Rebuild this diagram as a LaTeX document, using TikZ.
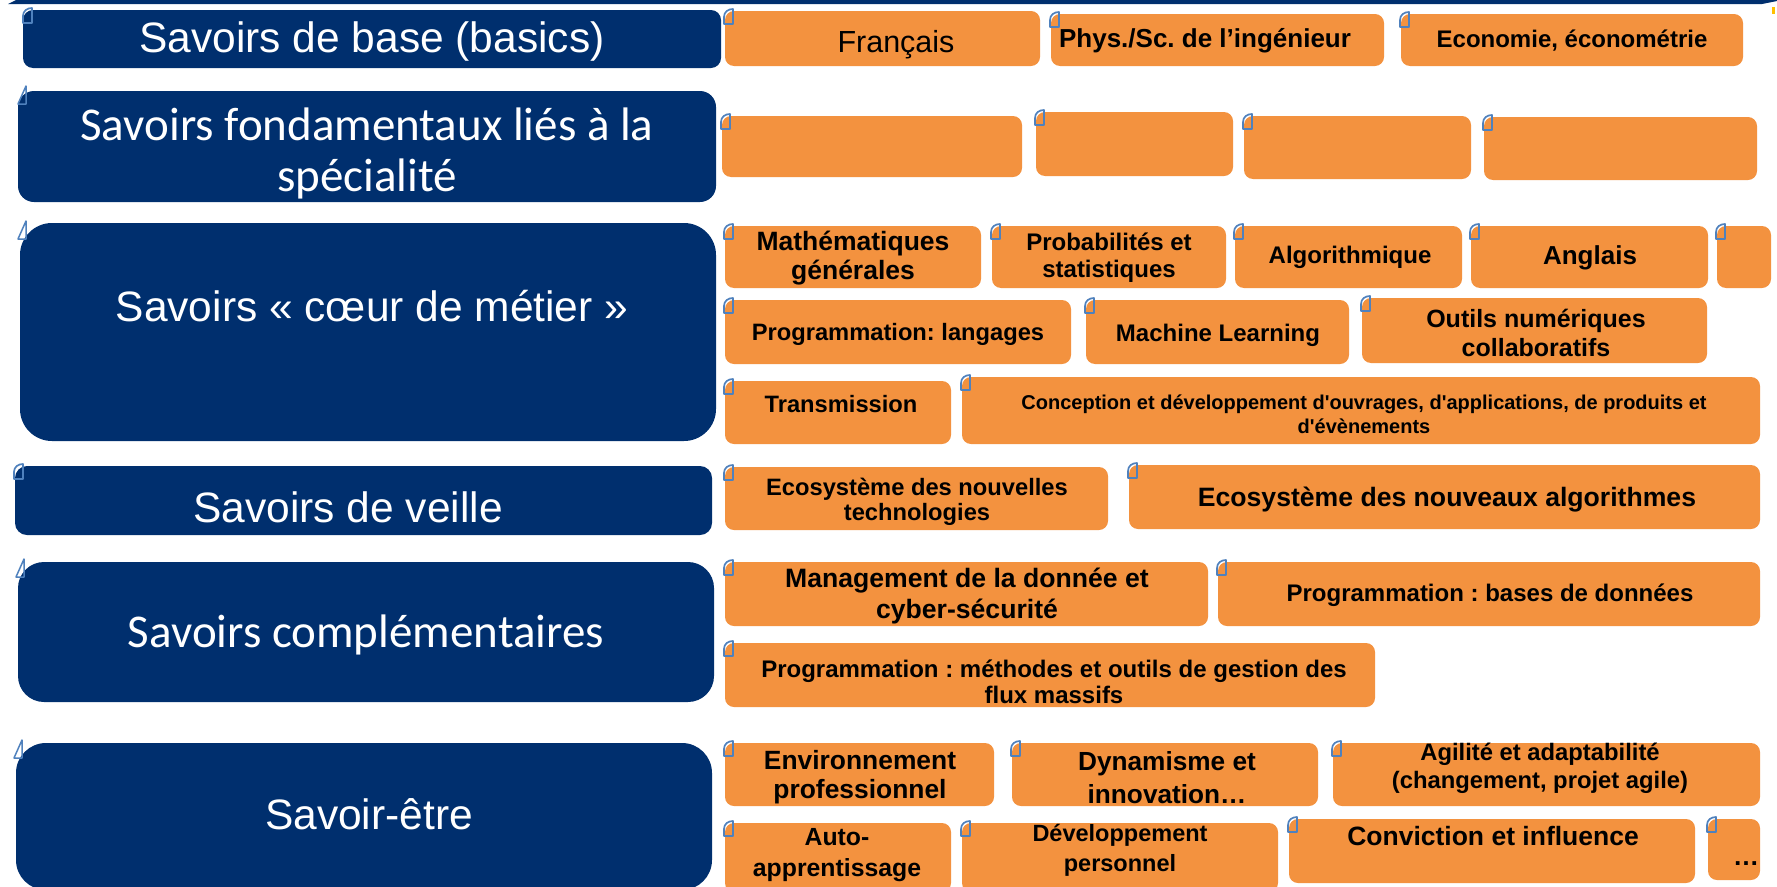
\documentclass[tikz,border=0pt]{standalone}
\usepackage{fontspec}
\setmainfont{Liberation Sans}[Ligatures=TeXOff]
\newfontfamily\calib{Carlito}
\usetikzlibrary{fit}
\definecolor{navy}{HTML}{002F6E}
\definecolor{orng}{HTML}{F3923F}
\definecolor{iconblue}{HTML}{4F81BD}
\definecolor{ylw}{HTML}{FFC000}
\newcommand{\fsz}[2]{\fontsize{#1}{#2}\selectfont}
\frenchspacing
\tikzset{
  bbox/.style={fill=navy, draw=none, inner sep=0pt, rounded corners=#1},
  obox/.style={fill=orng, draw=none, inner sep=0pt, rounded corners=9pt},
  btext/.style={text=white, align=center, inner sep=0pt, font=\fsz{42.5}{50}},
  ctext/.style={text=white, align=center, inner sep=0pt, font=\calib\fsz{47}{51}},
  ot/.style={text=black, align=center, inner sep=0pt},
  ic/.pic={\draw[iconblue, line width=1.7pt, line join=round]
     (0,15) -- (0,8) .. controls (0,3) and (4,0) .. (9,0) -- (9,15) -- cycle;},
  ict/.pic={\draw[iconblue, line width=1.5pt, line join=round]
     (0,18) -- (8,0) -- (8,18) -- cycle;}
}
\newcommand{\ob}[5]{\node[obox, fit={(#2,#3) (#4,#5)}] (#1) {};
  \pic at (#2-1,#3-2) {ic};}
\begin{document}
\begin{tikzpicture}[x=1pt,y=-1pt]
\useasboundingbox (0,0) rectangle (1777,886);
\clip (0,0) rectangle (1777,886);
% top bar
\fill[navy] (8,4) -- (16,0) -- (1777,0) -- (1777,1) -- (1762,4) -- cycle;
\fill[ylw] (1772,7) rectangle (1775,14);

% blue category boxes
\node[bbox=10pt, fit={(23,10) (721,68)}] (b1) {};
\node[bbox=16pt, fit={(18,91) (716,202)}] (b2) {};
\node[bbox=32pt, fit={(20,223) (716,441)}] (b3) {};
\node[bbox=12pt, fit={(15,466) (712,535)}] (b4) {};
\node[bbox=26pt, fit={(18,562) (714,702)}] (b5) {};
\node[bbox=30pt, fit={(16,743) (712,890)}] (b6) {};
\pic at (23,8) {ic};
\pic at (18,86) {ict};
\pic at (18,221) {ict};
\pic at (14,464) {ic};
\pic at (16,559) {ict};
\pic at (14,740) {ict};

\node[btext] (t1) at (372,42) {Savoirs de base (basics)};
\node[ctext] (t2) at (367,153) {Savoirs fondamentaux liés à la\\spécialité};
\node[btext] (t3) at (372,306) {Savoirs « cœur de métier »};
\node[btext] (t4) at (348,507) {Savoirs de veille};
\node[ctext] (t5) at (366,635) {Savoirs complémentaires};
\node[btext] (t6) at (369,814) {Savoir-être};

% orange boxes
\ob{o11}{725}{11}{1040}{66}
\ob{o12}{1051}{14}{1384}{66}
\ob{o13}{1401}{14}{1743}{66}
\ob{o21}{722}{116}{1022}{177}
\ob{o22}{1036}{112}{1233}{176}
\ob{o23}{1244}{116}{1471}{179}
\ob{o24}{1484}{117}{1757}{180}
\ob{o31}{725}{226}{981}{288}
\ob{o32}{992}{226}{1226}{288}
\ob{o33}{1235}{226}{1462}{288}
\ob{o34}{1471}{226}{1708}{288}
\ob{o35}{1717}{226}{1771}{288}
\ob{o41}{725}{300}{1071}{364}
\ob{o42}{1086}{300}{1349}{364}
\ob{o43}{1362}{298}{1707}{363}
\ob{o51}{725}{381}{951}{444}
\ob{o52}{962}{377}{1760}{444}
\ob{o61}{725}{467}{1108}{530}
\ob{o62}{1129}{465}{1760}{529}
\ob{o71}{725}{562}{1208}{626}
\ob{o72}{1218}{562}{1760}{626}
\ob{o73}{725}{643}{1375}{707}
\ob{o81}{725}{743}{994}{806}
\ob{o82}{1012}{743}{1318}{806}
\ob{o83}{1333}{743}{1760}{806}
\ob{o91}{725}{823}{951}{892}
\ob{o92}{962}{823}{1278}{892}
\ob{o93}{1289}{819}{1695}{883}
\ob{o94}{1708}{819}{1760}{880}

% orange texts
\node[ot, font=\fsz{30.5}{34}] (x11) at (896,45) {Français};
\node[ot, font=\bfseries\fsz{26}{30}] (x12) at (1205,41) {Phys./Sc. de l’ingénieur};
\node[ot, font=\bfseries\fsz{24}{28}] (x13) at (1572,41) {Economie, économétrie};
\node[ot, font=\bfseries\fsz{26.5}{29.5}] (x31) at (853,258) {Mathématiques\\générales};
\node[ot, font=\bfseries\fsz{24}{27}] (x32) at (1109,258) {Probabilités et\\statistiques};
\node[ot, font=\bfseries\fsz{24}{28}] (x33) at (1350,257) {Algorithmique};
\node[ot, font=\bfseries\fsz{26}{30}] (x34) at (1590,258) {Anglais};
\node[ot, font=\bfseries\fsz{23.7}{28}] (x41) at (898,334) {Programmation: langages};
\node[ot, font=\bfseries\fsz{24}{28}] (x42) at (1218,335) {Machine Learning};
\node[ot, font=\bfseries\fsz{25}{29.5}] (x43) at (1536,333) {Outils numériques\\collaboratifs};
\node[ot, font=\bfseries\fsz{23.7}{28}] (x51) at (841,404) {Transmission};
\node[ot, font=\bfseries\fsz{20}{24}] (x52) at (1364,414) {Conception et développement d'ouvrages, d'applications, de produits et\\d'évènements};
\node[ot, font=\bfseries\fsz{23.7}{25}] (x61) at (917,502) {Ecosystème des nouvelles\\technologies};
\node[ot, font=\bfseries\fsz{26.6}{30}] (x62) at (1447,500) {Ecosystème des nouveaux algorithmes};
\node[ot, font=\bfseries\fsz{26.6}{31.7}] (x71) at (967,596) {Management de la donnée et\\cyber-sécurité};
\node[ot, font=\bfseries\fsz{24}{28}] (x72) at (1490,595) {Programmation : bases de données};
\node[ot, font=\bfseries\fsz{24}{26}] (x73) at (1054,682) {Programmation : méthodes et outils de gestion des\\flux massifs};
\node[ot, font=\bfseries\fsz{26.4}{29.5}] (x81) at (860,777) {Environnement\\professionnel};
\node[ot, font=\bfseries\fsz{26.2}{33}] (x82) at (1167,778) {Dynamisme et\\innovation…};
\node[ot, font=\bfseries\fsz{23.8}{28}] (x83) at (1540,768) {Agilité et adaptabilité\\(changement, projet agile)};
\node[ot, font=\bfseries\fsz{24.8}{31.7}] (x91) at (837,855) {Auto-\\apprentissage};
\node[ot, font=\bfseries\fsz{23.5}{30}] (x92) at (1120,850) {Développement\\personnel};
\node[ot, font=\bfseries\fsz{26.5}{30}] (x93) at (1493,836) {Conviction et influence};
\node[ot, font=\bfseries\fsz{26}{30}] (x94) at (1746,864) {…};
\end{tikzpicture}
\end{document}
